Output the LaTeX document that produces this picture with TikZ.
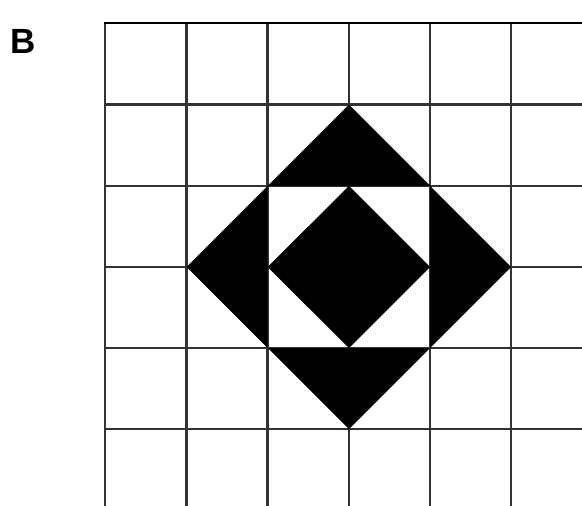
\documentclass[tikz,border=0pt]{standalone}
\usepackage{fontspec}
\setmainfont{Liberation Sans}
\begin{document}
\begin{tikzpicture}[x=1pt,y=-1pt,
  gridline/.style={draw=black!80,line width=2.2pt},
  shade/.style={fill=black,even odd rule}]
\useasboundingbox (0,0) rectangle (582,506);
% grid
\foreach \x in {105,186.5,267.5,349,430,511}
  \draw[gridline] (\x,22) -- (\x,506);
\foreach \y in {23,104.5,186,267,348,429}
  \draw[gridline] (104,\y) -- (582,\y);
\draw[draw=black,line width=2.2pt] (104,23) -- (582,23);
% black shapes
\coordinate (t) at (349,104.5);
\coordinate (r) at (511,267);
\coordinate (b) at (349,429);
\coordinate (l) at (186.5,267);
\fill[shade] (t) -- (r) -- (b) -- (l) -- cycle
  (267.5,186) rectangle (430,348);
\fill[black] (349,186) -- (430,267) -- (349,348) -- (267.5,267) -- cycle;
\node[anchor=base west,inner sep=0pt,font=\bfseries\fontsize{35}{35}\selectfont] (lbl) at (10,53) {B};
\end{tikzpicture}
\end{document}
